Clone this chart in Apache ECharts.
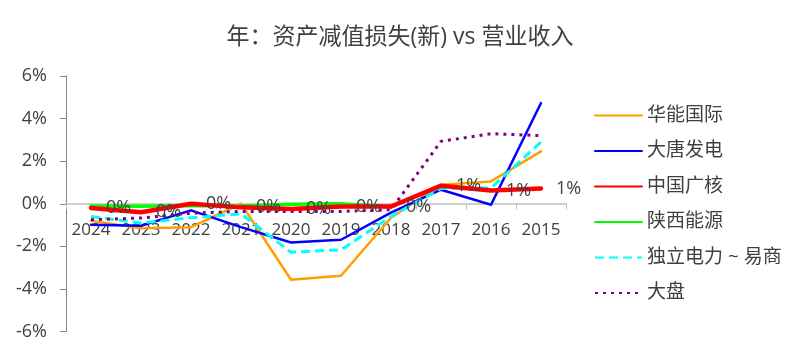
<!DOCTYPE html>
<html>
<head>
<meta charset="utf-8">
<script src="https://cdn.jsdelivr.net/npm/echarts@6/dist/echarts.min.js"></script>
<style>html,body{margin:0;padding:0;background:#fff;}#c{width:800px;height:353px;}</style>
</head>
<body>
<div id="c"></div>
<script>
var categories = ['2024','2023','2022','2021','2020','2019','2018','2017','2016','2015'];
var yTicks = [-6, -4, -2, 0, 2, 4, 6];
var huaneng = [-0.8, -1.15, -1.1, 0.0, -3.57, -3.38, -0.66, 0.89, 1.05, 2.46];
var datang = [-0.99, -1.03, -0.31, -1.1, -1.82, -1.69, -0.42, 0.66, -0.05, 4.73];
var cgn = [-0.2, -0.4, 0.0, -0.17, -0.25, -0.13, -0.13, 0.85, 0.62, 0.72];
var shaanxi = [-0.1, -0.12, -0.08, -0.1, -0.02, 0.0, -0.15, null, null, null];
var ipp = [-0.6, -0.9, -0.66, -0.47, -2.28, -2.16, -0.6, 0.72, 0.74, 2.9];
var market = [-0.75, -0.67, -0.44, -0.36, -0.36, -0.36, -0.28, 2.93, 3.29, 3.2];

var font = "'Open Sans', 'Noto Sans CJK SC', sans-serif";
var clear = 'rgba(0,0,0,0)';
var chart = echarts.init(document.getElementById('c'), null, {renderer: 'canvas'});
function mk(name, data, color, width, type, extra) {
  var s = {
    name: name, type: 'line', data: data, xAxisIndex: 0, yAxisIndex: 0,
    symbol: 'circle', symbolSize: 0.01, showSymbol: true, smooth: false,
    connectNulls: false,
    lineStyle: {color: color, width: width, type: type, join: 'round', cap: type === 'solid' ? 'round' : 'butt'},
    itemStyle: {color: clear, borderColor: clear, borderWidth: 0},
    emphasis: {disabled: true},
    animation: false
  };
  if (extra) { for (var k in extra) s[k] = extra[k]; }
  return s;
}
chart.setOption({
  animation: false,
  textStyle: {fontFamily: font},
  title: {
    text: '年：资产减值损失(新) vs 营业收入',
    left: 'center', top: 21,
    textStyle: {fontFamily: font, fontSize: 23, fontWeight: 'normal', color: '#404040'}
  },
  legend: {
    orient: 'vertical', left: 594, top: 106, padding: 0,
    itemWidth: 47, itemHeight: 14, itemGap: 16.5,
    itemStyle: {color: clear, borderColor: clear, borderWidth: 0, opacity: 0},
    textStyle: {fontFamily: font, fontSize: 19, color: '#404040', lineHeight: 19},
    data: ['华能国际','大唐发电','中国广核','陕西能源','独立电力 ~ 易商','大盘']
  },
  grid: [
    {left: 66, right: 234, top: 76, bottom: 21.5, containLabel: false, outerBoundsMode: 'none'},
    {left: 66, right: 234, top: 76, bottom: 149.5, containLabel: false, outerBoundsMode: 'none'}
  ],
  xAxis: [
    {
      type: 'category', data: categories, boundaryGap: true, gridIndex: 0,
      axisLine: {show: false}, axisTick: {show: false}, axisLabel: {show: false}
    },
    {
      type: 'category', data: categories, boundaryGap: true, gridIndex: 1,
      axisLine: {onZero: false, lineStyle: {color: '#bfbfbf', width: 1.5}},
      axisTick: {show: true, length: 6, inside: false, lineStyle: {color: '#bfbfbf'}},
      axisLabel: {fontSize: 17, color: '#404040', margin: 18, interval: 0, fontFamily: font}
    }
  ],
  yAxis: [
    {
      type: 'value', min: yTicks[0], max: yTicks[yTicks.length - 1], interval: 2, gridIndex: 0,
      axisLine: {show: true, lineStyle: {color: '#868686', width: 1}},
      axisTick: {show: true, length: 6, lineStyle: {color: '#868686'}},
      splitLine: {show: false},
      axisLabel: {fontSize: 18, color: '#404040', margin: 19, fontFamily: font, formatter: function (v) { return v + '%'; }}
    },
    {
      type: 'value', min: 0, max: 6, gridIndex: 1, show: false
    }
  ],
  series: [
    mk('华能国际', huaneng, '#FFA000', 2.5, 'solid'),
    mk('大唐发电', datang, '#0000FF', 2.5, 'solid'),
    mk('陕西能源', shaanxi, '#00FF00', 3.5, 'solid'),
    mk('独立电力 ~ 易商', ipp, '#00FFFF', 3, [9, 5]),
    mk('大盘', market, '#800080', 3, [3, 5]),
    mk('中国广核', cgn, '#FF0000', 4.5, 'solid', {
      label: {show: true, position: 'right', distance: 15, fontSize: 18, color: '#404040', fontFamily: font,
        formatter: function (p) { var r = Math.round(p.value); if (r === 0) r = 0; return r + '%'; }}
    })
  ]
});
</script>
</body>
</html>
